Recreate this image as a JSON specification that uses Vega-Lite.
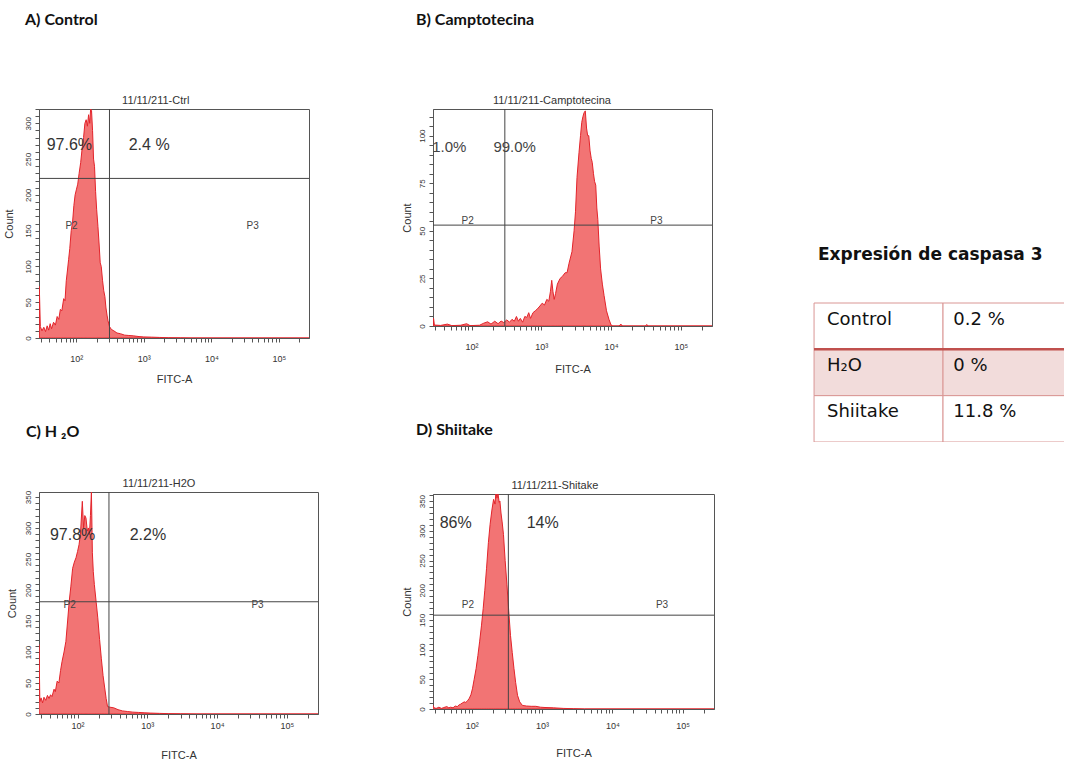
{
"$schema": "https://vega.github.io/schema/vega-lite/v6.json",
"background": "white",
"padding": {"left": 2, "top": 11, "right": 0, "bottom": 0},
"config": {
  "view": {"stroke": "#555", "strokeWidth": 1},
  "axis": {"labelFont": "Liberation Sans", "labelColor": "#333", "tickColor": "#555", "domainColor": "#555", "grid": false, "titleFont": "Liberation Sans", "titleFontWeight": "normal", "titleColor": "#333", "tickSize": 4, "labelOverlap": false, "labelFlush": false, "titleFontSize": 11, "tickCount": 100},
  "axisX": {"labelFontSize": 9},
  "axisY": {"labelAngle": 270, "labelFontSize": 8, "labelOverlap": false, "labelBound": false}
},
"datasets": {
  "histA": [{"fitc":28.3,"count":72},{"fitc":29.3,"count":16},{"fitc":31,"count":10},{"fitc":33,"count":15},{"fitc":35,"count":9},{"fitc":37,"count":17},{"fitc":39,"count":11},{"fitc":41,"count":20},{"fitc":43,"count":13},{"fitc":46,"count":22},{"fitc":49,"count":18},{"fitc":52,"count":30},{"fitc":55,"count":26},{"fitc":58,"count":40},{"fitc":61,"count":38},{"fitc":65,"count":55},{"fitc":68,"count":52},{"fitc":71,"count":80},{"fitc":74,"count":95},{"fitc":77,"count":110},{"fitc":80,"count":125},{"fitc":84,"count":150},{"fitc":88,"count":162},{"fitc":92,"count":185},{"fitc":96,"count":200},{"fitc":100,"count":207},{"fitc":105,"count":215},{"fitc":110,"count":230},{"fitc":116,"count":245},{"fitc":122,"count":265},{"fitc":128,"count":280},{"fitc":134,"count":300},{"fitc":140,"count":305},{"fitc":146,"count":296},{"fitc":152,"count":312},{"fitc":158,"count":300},{"fitc":163,"count":320},{"fitc":168,"count":318},{"fitc":174,"count":290},{"fitc":180,"count":250},{"fitc":186,"count":240},{"fitc":193,"count":205},{"fitc":200,"count":180},{"fitc":209,"count":156},{"fitc":218,"count":130},{"fitc":226,"count":105},{"fitc":234,"count":100},{"fitc":245,"count":80},{"fitc":255,"count":66},{"fitc":265,"count":58},{"fitc":275,"count":42},{"fitc":285,"count":32},{"fitc":295,"count":24},{"fitc":310,"count":16},{"fitc":331,"count":12},{"fitc":360,"count":10},{"fitc":400,"count":7},{"fitc":450,"count":6},{"fitc":520,"count":4},{"fitc":600,"count":3.5},{"fitc":700,"count":3},{"fitc":850,"count":2},{"fitc":1000,"count":1.5},{"fitc":1300,"count":1.2},{"fitc":1700,"count":0.8},{"fitc":2300,"count":0.4},{"fitc":3500,"count":0.2},{"fitc":5000,"count":0},{"fitc":280000,"count":0}],
  "histB": [{"fitc":28.5,"count":4},{"fitc":29.3,"count":0.5},{"fitc":36,"count":0.3},{"fitc":45,"count":1},{"fitc":52,"count":0.2},{"fitc":70,"count":0.4},{"fitc":85,"count":1.2},{"fitc":95,"count":0.2},{"fitc":130,"count":0.4},{"fitc":150,"count":1.5},{"fitc":170,"count":2.2},{"fitc":190,"count":1},{"fitc":215,"count":2.5},{"fitc":240,"count":1.2},{"fitc":265,"count":2.6},{"fitc":290,"count":1.8},{"fitc":320,"count":3.2},{"fitc":350,"count":2},{"fitc":380,"count":3.5},{"fitc":410,"count":2.5},{"fitc":440,"count":5},{"fitc":470,"count":2.5},{"fitc":500,"count":4},{"fitc":540,"count":2},{"fitc":580,"count":5},{"fitc":620,"count":4.5},{"fitc":660,"count":7},{"fitc":700,"count":4},{"fitc":760,"count":7},{"fitc":820,"count":8},{"fitc":880,"count":9},{"fitc":955,"count":10.5},{"fitc":1030,"count":12},{"fitc":1110,"count":11},{"fitc":1200,"count":14},{"fitc":1280,"count":13},{"fitc":1350,"count":18},{"fitc":1410,"count":24},{"fitc":1470,"count":18},{"fitc":1530,"count":14},{"fitc":1600,"count":17},{"fitc":1700,"count":22},{"fitc":1860,"count":25},{"fitc":2000,"count":26},{"fitc":2200,"count":28},{"fitc":2340,"count":28},{"fitc":2500,"count":33},{"fitc":2750,"count":39},{"fitc":2950,"count":50},{"fitc":3090,"count":60},{"fitc":3250,"count":78},{"fitc":3470,"count":91},{"fitc":3650,"count":100},{"fitc":3800,"count":107},{"fitc":3950,"count":110},{"fitc":4100,"count":112},{"fitc":4270,"count":113},{"fitc":4450,"count":104},{"fitc":4620,"count":100},{"fitc":4790,"count":100},{"fitc":5000,"count":92},{"fitc":5200,"count":88},{"fitc":5370,"count":86},{"fitc":5600,"count":80},{"fitc":5800,"count":76},{"fitc":6030,"count":74},{"fitc":6250,"count":62},{"fitc":6460,"count":56},{"fitc":6750,"count":42},{"fitc":7080,"count":30},{"fitc":7500,"count":22},{"fitc":7940,"count":16},{"fitc":8600,"count":8},{"fitc":9330,"count":3.5},{"fitc":10000,"count":0.5},{"fitc":10600,"count":0},{"fitc":13000,"count":0},{"fitc":13800,"count":1},{"fitc":14600,"count":0},{"fitc":31000,"count":0},{"fitc":32500,"count":0.8},{"fitc":34000,"count":0},{"fitc":280000,"count":0}],
  "histC": [{"fitc":28,"count":112},{"fitc":28.8,"count":20},{"fitc":30,"count":26},{"fitc":31.5,"count":18},{"fitc":33,"count":27},{"fitc":35,"count":22},{"fitc":37,"count":30},{"fitc":39,"count":25},{"fitc":41,"count":31},{"fitc":43,"count":28},{"fitc":46,"count":40},{"fitc":48,"count":36},{"fitc":51,"count":53},{"fitc":54,"count":50},{"fitc":57,"count":70},{"fitc":60,"count":85},{"fitc":64,"count":100},{"fitc":68,"count":117},{"fitc":72,"count":150},{"fitc":76,"count":182},{"fitc":80,"count":205},{"fitc":85,"count":235},{"fitc":90,"count":245},{"fitc":95,"count":252},{"fitc":100,"count":262},{"fitc":105,"count":273},{"fitc":110,"count":290},{"fitc":117,"count":343},{"fitc":122,"count":300},{"fitc":127,"count":320},{"fitc":132,"count":316},{"fitc":138,"count":295},{"fitc":143,"count":300},{"fitc":148,"count":289},{"fitc":153,"count":320},{"fitc":158,"count":359},{"fitc":163,"count":260},{"fitc":168,"count":230},{"fitc":174,"count":209},{"fitc":185,"count":180},{"fitc":195,"count":155},{"fitc":207,"count":120},{"fitc":219,"count":90},{"fitc":232,"count":62},{"fitc":245,"count":42},{"fitc":257,"count":25},{"fitc":269,"count":12},{"fitc":290,"count":11},{"fitc":330,"count":10},{"fitc":380,"count":7},{"fitc":440,"count":5},{"fitc":520,"count":4},{"fitc":620,"count":3},{"fitc":750,"count":2.5},{"fitc":900,"count":2},{"fitc":1100,"count":1.5},{"fitc":1500,"count":1},{"fitc":2000,"count":0.6},{"fitc":3000,"count":0.3},{"fitc":5000,"count":0},{"fitc":280000,"count":0}],
  "histD": [{"fitc":28,"count":6},{"fitc":29,"count":2},{"fitc":31,"count":1},{"fitc":34,"count":3},{"fitc":37,"count":1},{"fitc":40,"count":2.5},{"fitc":44,"count":4},{"fitc":47,"count":2},{"fitc":50,"count":3},{"fitc":54,"count":2},{"fitc":58,"count":5},{"fitc":62,"count":4},{"fitc":66,"count":7},{"fitc":69,"count":8},{"fitc":73,"count":10},{"fitc":78,"count":12},{"fitc":82,"count":11},{"fitc":87,"count":14},{"fitc":92,"count":18},{"fitc":97,"count":24},{"fitc":102,"count":34},{"fitc":108,"count":50},{"fitc":115,"count":68},{"fitc":122,"count":90},{"fitc":129,"count":113},{"fitc":137,"count":140},{"fitc":145,"count":169},{"fitc":153,"count":200},{"fitc":162,"count":237},{"fitc":172,"count":280},{"fitc":182,"count":311},{"fitc":193,"count":335},{"fitc":204,"count":353},{"fitc":214,"count":345},{"fitc":220,"count":365},{"fitc":228,"count":355},{"fitc":236,"count":362},{"fitc":245,"count":348},{"fitc":251,"count":350},{"fitc":260,"count":330},{"fitc":270,"count":315},{"fitc":282,"count":294},{"fitc":298,"count":250},{"fitc":316,"count":209},{"fitc":335,"count":165},{"fitc":355,"count":124},{"fitc":376,"count":95},{"fitc":398,"count":68},{"fitc":420,"count":45},{"fitc":447,"count":23},{"fitc":480,"count":12},{"fitc":525,"count":6},{"fitc":600,"count":5},{"fitc":700,"count":4.5},{"fitc":813,"count":4.5},{"fitc":950,"count":3},{"fitc":1100,"count":2.5},{"fitc":1445,"count":2},{"fitc":2000,"count":1},{"fitc":2820,"count":0.5},{"fitc":4000,"count":0},{"fitc":280000,"count":0}],
  "gates": [{"panel":"A","fitc":310,"count":223},{"panel":"B","fitc":300,"count":53},{"panel":"C","fitc":282,"count":181},{"panel":"D","fitc":331,"count":158}],
  "labels": [
    {"panel":"A","kind":"title","label":"11/11/211-Ctrl","fitc":1500,"count":320},
    {"panel":"A","kind":"pct","label":"97.6%","fitc":79,"count":270},
    {"panel":"A","kind":"pct","label":"2.4 %","fitc":1200,"count":270},
    {"panel":"A","kind":"pop","label":"P2","fitc":85,"count":156},
    {"panel":"A","kind":"pop","label":"P3","fitc":41000,"count":156},
    {"panel":"B","kind":"title","label":"11/11/211-Camptotecina","fitc":1420,"count":114},
    {"panel":"B","kind":"pct","label":"1.0%","fitc":48,"count":94},
    {"panel":"B","kind":"pct","label":"99.0%","fitc":415,"count":94},
    {"panel":"B","kind":"pop","label":"P2","fitc":88,"count":55},
    {"panel":"B","kind":"pop","label":"P3","fitc":44600,"count":55},
    {"panel":"C","kind":"title","label":"11/11/211-H2O","fitc":1470,"count":358},
    {"panel":"C","kind":"pct","label":"97.8%","fitc":85,"count":289},
    {"panel":"C","kind":"pct","label":"2.2%","fitc":1020,"count":289},
    {"panel":"C","kind":"pop","label":"P2","fitc":77,"count":176},
    {"panel":"C","kind":"pop","label":"P3","fitc":38000,"count":176},
    {"panel":"D","kind":"title","label":"11/11/211-Shitake","fitc":1520,"count":362},
    {"panel":"D","kind":"pct","label":"86%","fitc":59,"count":313},
    {"panel":"D","kind":"pct","label":"14%","fitc":1020,"count":313},
    {"panel":"D","kind":"pop","label":"P2","fitc":88,"count":175},
    {"panel":"D","kind":"pop","label":"P3","fitc":51000,"count":175}
  ],
  "tabla": [{"grupo":"Control","valor":"0.2 %"},{"grupo":"H₂O","valor":"0 %"},{"grupo":"Shiitake","valor":"11.8 %"}]
},
"spacing": 81,
"hconcat": [
 {"spacing": 38, "columns": 1, "align": "none", "concat": [
  {"title": {"text": "A) Control", "anchor": "start", "frame": "bounds", "offset": 67, "dx": 22, "font": "Lato", "fontSize": 16, "fontWeight": "bold", "color": "#111"},
   "width": 270, "height": 229,
   "layer": [
    {"data": {"name": "histA"}, "mark": {"type": "area", "clip": true, "fill": "#f27474", "stroke": "#e3242b", "strokeWidth": 1},
     "encoding": {
      "x": {"field": "fitc", "type": "quantitative", "scale": {"type": "log", "domain": [28, 280000]},
            "axis": {"title": "FITC-A", "tickCount": 100, "values": [30,40,50,60,70,80,90,100,200,300,400,500,600,700,800,900,1000,2000,3000,4000,5000,6000,7000,8000,9000,10000,20000,30000,40000,50000,60000,70000,80000,90000,100000,200000], "labelExpr": "datum.value === 100 ? '10²' : datum.value === 1000 ? '10³' : datum.value === 10000 ? '10⁴' : datum.value === 100000 ? '10⁵' : ''", "labelPadding": 12, "titlePadding": 10}},
      "y": {"field": "count", "type": "quantitative", "scale": {"domain": [0, 320]},
            "axis": {"title": "Count", "tickCount": 100, "values": [0,10,20,30,40,50,60,70,80,90,100,110,120,130,140,150,160,170,180,190,200,210,220,230,240,250,260,270,280,290,300,310,320], "labelExpr": "datum.value % 50 === 0 ? datum.label : ''", "labelOverlap": false, "labelPadding": 3, "titlePadding": 10}}}},
    {"data": {"name": "gates"}, "transform": [{"filter": "datum.panel === 'A'"}], "mark": {"type": "rule", "color": "#444"},
     "encoding": {"y": {"field": "count", "type": "quantitative", "scale": {"domain": [0, 320]}}}},
    {"data": {"name": "gates"}, "transform": [{"filter": "datum.panel === 'A'"}], "mark": {"type": "rule", "color": "#444"},
     "encoding": {"x": {"field": "fitc", "type": "quantitative", "scale": {"type": "log", "domain": [28, 280000]}}}},
    {"data": {"name": "labels"}, "transform": [{"filter": "datum.panel === 'A' && datum.kind === 'pct'"}], "mark": {"type": "text", "font": "Liberation Sans", "fontSize": 16, "color": "#333"},
     "encoding": {"x": {"field": "fitc", "type": "quantitative", "scale": {"type": "log", "domain": [28, 280000]}}, "y": {"field": "count", "type": "quantitative", "scale": {"domain": [0, 320]}}, "text": {"field": "label"}}},
    {"data": {"name": "labels"}, "transform": [{"filter": "datum.panel === 'A' && datum.kind === 'pop'"}], "mark": {"type": "text", "font": "Liberation Sans", "fontSize": 10, "color": "#444"},
     "encoding": {"x": {"field": "fitc", "type": "quantitative", "scale": {"type": "log", "domain": [28, 280000]}}, "y": {"field": "count", "type": "quantitative", "scale": {"domain": [0, 320]}}, "text": {"field": "label"}}},
    {"data": {"name": "labels"}, "transform": [{"filter": "datum.panel === 'A' && datum.kind === 'title'"}], "mark": {"type": "text", "font": "Liberation Sans", "fontSize": 11, "color": "#333", "baseline": "bottom", "dy": -3},
     "encoding": {"x": {"field": "fitc", "type": "quantitative", "scale": {"type": "log", "domain": [28, 280000]}}, "y": {"field": "count", "type": "quantitative", "scale": {"domain": [0, 320]}}, "text": {"field": "label"}}}
   ]},
  {"title": {"text": "C) H ₂O", "anchor": "start", "frame": "bounds", "offset": 38, "dx": 20, "font": "Lato", "fontSize": 16, "fontWeight": "bold", "color": "#111"},
   "width": 279, "height": 222,
   "layer": [
    {"data": {"name": "histC"}, "mark": {"type": "area", "clip": true, "fill": "#f27474", "stroke": "#e3242b", "strokeWidth": 1},
     "encoding": {
      "x": {"field": "fitc", "type": "quantitative", "scale": {"type": "log", "domain": [28, 280000]},
            "axis": {"title": "FITC-A", "tickCount": 100, "values": [30,40,50,60,70,80,90,100,200,300,400,500,600,700,800,900,1000,2000,3000,4000,5000,6000,7000,8000,9000,10000,20000,30000,40000,50000,60000,70000,80000,90000,100000,200000], "labelExpr": "datum.value === 100 ? '10²' : datum.value === 1000 ? '10³' : datum.value === 10000 ? '10⁴' : datum.value === 100000 ? '10⁵' : ''", "labelPadding": 3, "titlePadding": 19}},
      "y": {"field": "count", "type": "quantitative", "scale": {"domain": [0, 358]},
            "axis": {"title": "Count", "tickCount": 100, "values": [0,10,20,30,40,50,60,70,80,90,100,110,120,130,140,150,160,170,180,190,200,210,220,230,240,250,260,270,280,290,300,310,320,330,340,350], "labelExpr": "datum.value % 50 === 0 ? datum.label : ''", "labelOverlap": false, "labelPadding": 3, "titlePadding": 7}}}},
    {"data": {"name": "gates"}, "transform": [{"filter": "datum.panel === 'C'"}], "mark": {"type": "rule", "color": "#444"},
     "encoding": {"y": {"field": "count", "type": "quantitative", "scale": {"domain": [0, 358]}}}},
    {"data": {"name": "gates"}, "transform": [{"filter": "datum.panel === 'C'"}], "mark": {"type": "rule", "color": "#444"},
     "encoding": {"x": {"field": "fitc", "type": "quantitative", "scale": {"type": "log", "domain": [28, 280000]}}}},
    {"data": {"name": "labels"}, "transform": [{"filter": "datum.panel === 'C' && datum.kind === 'pct'"}], "mark": {"type": "text", "font": "Liberation Sans", "fontSize": 16, "color": "#333"},
     "encoding": {"x": {"field": "fitc", "type": "quantitative", "scale": {"type": "log", "domain": [28, 280000]}}, "y": {"field": "count", "type": "quantitative", "scale": {"domain": [0, 358]}}, "text": {"field": "label"}}},
    {"data": {"name": "labels"}, "transform": [{"filter": "datum.panel === 'C' && datum.kind === 'pop'"}], "mark": {"type": "text", "font": "Liberation Sans", "fontSize": 10, "color": "#444"},
     "encoding": {"x": {"field": "fitc", "type": "quantitative", "scale": {"type": "log", "domain": [28, 280000]}}, "y": {"field": "count", "type": "quantitative", "scale": {"domain": [0, 358]}}, "text": {"field": "label"}}},
    {"data": {"name": "labels"}, "transform": [{"filter": "datum.panel === 'C' && datum.kind === 'title'"}], "mark": {"type": "text", "font": "Liberation Sans", "fontSize": 11, "color": "#333", "baseline": "bottom", "dy": -3},
     "encoding": {"x": {"field": "fitc", "type": "quantitative", "scale": {"type": "log", "domain": [28, 280000]}}, "y": {"field": "count", "type": "quantitative", "scale": {"domain": [0, 358]}}, "text": {"field": "label"}}}
   ]}
 ]},
 {"spacing": 46, "vconcat": [
  {"title": {"text": "B) Camptotecina", "anchor": "start", "frame": "bounds", "offset": 67, "dx": 15, "font": "Lato", "fontSize": 16, "fontWeight": "bold", "color": "#111"},
   "width": 279, "height": 217,
   "layer": [
    {"data": {"name": "histB"}, "mark": {"type": "area", "clip": true, "fill": "#f27474", "stroke": "#e3242b", "strokeWidth": 1},
     "encoding": {
      "x": {"field": "fitc", "type": "quantitative", "scale": {"type": "log", "domain": [28, 280000]},
            "axis": {"title": "FITC-A", "tickCount": 100, "values": [30,40,50,60,70,80,90,100,200,300,400,500,600,700,800,900,1000,2000,3000,4000,5000,6000,7000,8000,9000,10000,20000,30000,40000,50000,60000,70000,80000,90000,100000,200000], "labelExpr": "datum.value === 100 ? '10²' : datum.value === 1000 ? '10³' : datum.value === 10000 ? '10⁴' : datum.value === 100000 ? '10⁵' : ''", "labelPadding": 12, "titlePadding": 12}},
      "y": {"field": "count", "type": "quantitative", "scale": {"domain": [0, 114]},
            "axis": {"title": "Count", "tickCount": 100, "values": [0,5,10,15,20,25,30,35,40,45,50,55,60,65,70,75,80,85,90,95,100,105,110], "labelExpr": "datum.value % 25 === 0 ? datum.label : ''", "labelOverlap": false, "labelPadding": 3, "titlePadding": 6}}}},
    {"data": {"name": "gates"}, "transform": [{"filter": "datum.panel === 'B'"}], "mark": {"type": "rule", "color": "#444"},
     "encoding": {"y": {"field": "count", "type": "quantitative", "scale": {"domain": [0, 114]}}}},
    {"data": {"name": "gates"}, "transform": [{"filter": "datum.panel === 'B'"}], "mark": {"type": "rule", "color": "#444"},
     "encoding": {"x": {"field": "fitc", "type": "quantitative", "scale": {"type": "log", "domain": [28, 280000]}}}},
    {"data": {"name": "labels"}, "transform": [{"filter": "datum.panel === 'B' && datum.kind === 'pct'"}], "mark": {"type": "text", "font": "Liberation Sans", "fontSize": 15, "color": "#444"},
     "encoding": {"x": {"field": "fitc", "type": "quantitative", "scale": {"type": "log", "domain": [28, 280000]}}, "y": {"field": "count", "type": "quantitative", "scale": {"domain": [0, 114]}}, "text": {"field": "label"}}},
    {"data": {"name": "labels"}, "transform": [{"filter": "datum.panel === 'B' && datum.kind === 'pop'"}], "mark": {"type": "text", "font": "Liberation Sans", "fontSize": 10, "color": "#444"},
     "encoding": {"x": {"field": "fitc", "type": "quantitative", "scale": {"type": "log", "domain": [28, 280000]}}, "y": {"field": "count", "type": "quantitative", "scale": {"domain": [0, 114]}}, "text": {"field": "label"}}},
    {"data": {"name": "labels"}, "transform": [{"filter": "datum.panel === 'B' && datum.kind === 'title'"}], "mark": {"type": "text", "font": "Liberation Sans", "fontSize": 11, "color": "#333", "baseline": "bottom", "dy": -3},
     "encoding": {"x": {"field": "fitc", "type": "quantitative", "scale": {"type": "log", "domain": [28, 280000]}}, "y": {"field": "count", "type": "quantitative", "scale": {"domain": [0, 114]}}, "text": {"field": "label"}}}
   ]},
  {"title": {"text": "D) Shiitake", "anchor": "start", "frame": "bounds", "offset": 42, "dx": 15, "font": "Lato", "fontSize": 16, "fontWeight": "bold", "color": "#111"},
   "width": 281, "height": 215,
   "layer": [
    {"data": {"name": "histD"}, "mark": {"type": "area", "clip": true, "fill": "#f27474", "stroke": "#e3242b", "strokeWidth": 1},
     "encoding": {
      "x": {"field": "fitc", "type": "quantitative", "scale": {"type": "log", "domain": [28, 280000]},
            "axis": {"title": "FITC-A", "tickCount": 100, "values": [30,40,50,60,70,80,90,100,200,300,400,500,600,700,800,900,1000,2000,3000,4000,5000,6000,7000,8000,9000,10000,20000,30000,40000,50000,60000,70000,80000,90000,100000,200000], "labelExpr": "datum.value === 100 ? '10²' : datum.value === 1000 ? '10³' : datum.value === 10000 ? '10⁴' : datum.value === 100000 ? '10⁵' : ''", "labelPadding": 8, "titlePadding": 17}},
      "y": {"field": "count", "type": "quantitative", "scale": {"domain": [0, 362]},
            "axis": {"title": "Count", "tickCount": 100, "values": [0,10,20,30,40,50,60,70,80,90,100,110,120,130,140,150,160,170,180,190,200,210,220,230,240,250,260,270,280,290,300,310,320,330,340,350,360], "labelExpr": "datum.value % 50 === 0 ? datum.label : ''", "labelOverlap": false, "labelPadding": 3, "titlePadding": 6}}}},
    {"data": {"name": "gates"}, "transform": [{"filter": "datum.panel === 'D'"}], "mark": {"type": "rule", "color": "#444"},
     "encoding": {"y": {"field": "count", "type": "quantitative", "scale": {"domain": [0, 362]}}}},
    {"data": {"name": "gates"}, "transform": [{"filter": "datum.panel === 'D'"}], "mark": {"type": "rule", "color": "#444"},
     "encoding": {"x": {"field": "fitc", "type": "quantitative", "scale": {"type": "log", "domain": [28, 280000]}}}},
    {"data": {"name": "labels"}, "transform": [{"filter": "datum.panel === 'D' && datum.kind === 'pct'"}], "mark": {"type": "text", "font": "Liberation Sans", "fontSize": 16, "color": "#333"},
     "encoding": {"x": {"field": "fitc", "type": "quantitative", "scale": {"type": "log", "domain": [28, 280000]}}, "y": {"field": "count", "type": "quantitative", "scale": {"domain": [0, 362]}}, "text": {"field": "label"}}},
    {"data": {"name": "labels"}, "transform": [{"filter": "datum.panel === 'D' && datum.kind === 'pop'"}], "mark": {"type": "text", "font": "Liberation Sans", "fontSize": 10, "color": "#444"},
     "encoding": {"x": {"field": "fitc", "type": "quantitative", "scale": {"type": "log", "domain": [28, 280000]}}, "y": {"field": "count", "type": "quantitative", "scale": {"domain": [0, 362]}}, "text": {"field": "label"}}},
    {"data": {"name": "labels"}, "transform": [{"filter": "datum.panel === 'D' && datum.kind === 'title'"}], "mark": {"type": "text", "font": "Liberation Sans", "fontSize": 11, "color": "#333", "baseline": "bottom", "dy": -3},
     "encoding": {"x": {"field": "fitc", "type": "quantitative", "scale": {"type": "log", "domain": [28, 280000]}}, "y": {"field": "count", "type": "quantitative", "scale": {"domain": [0, 362]}}, "text": {"field": "label"}}}
   ]}
 ]},
 {"data": {"name": "tabla"},
  "width": 268, "height": 333,
  "view": {"stroke": null},
  "title": {"text": "Expresión de caspasa 3", "anchor": "start", "frame": "group", "offset": -155, "dx": 22, "font": "DejaVu Sans", "fontSize": 17, "fontWeight": "bold", "color": "#111"},
  "layer": [
   {"mark": {"type": "rect", "stroke": "#d99694", "strokeWidth": 1, "clip": true},
    "encoding": {
     "y": {"field": "grupo", "type": "nominal", "sort": null, "scale": {"domain": ["Control", "H₂O", "Shiitake"], "range": [194, 333], "paddingInner": 0, "paddingOuter": 0}, "axis": null},
     "x": {"datum": 0, "type": "quantitative", "scale": {"domain": [-0.14, 1.938]}, "axis": null},
     "x2": {"datum": 1},
     "fill": {"condition": {"test": "datum.grupo === 'H₂O'", "value": "#f2dcdb"}, "value": "#ffffff"}}},
   {"mark": {"type": "rect", "stroke": "#d99694", "strokeWidth": 1, "clip": true},
    "encoding": {
     "y": {"field": "grupo", "type": "nominal", "sort": null, "scale": {"domain": ["Control", "H₂O", "Shiitake"], "range": [194, 333], "paddingInner": 0, "paddingOuter": 0}, "axis": null},
     "x": {"datum": 1, "type": "quantitative", "scale": {"domain": [-0.14, 1.938]}, "axis": null},
     "x2": {"datum": 2},
     "fill": {"condition": {"test": "datum.grupo === 'H₂O'", "value": "#f2dcdb"}, "value": "#ffffff"}}},
   {"transform": [{"filter": "datum.grupo === 'H₂O'"}],
    "mark": {"type": "rule", "color": "#c0504d", "strokeWidth": 2.5, "clip": true},
    "encoding": {
     "y": {"field": "grupo", "type": "nominal", "bandPosition": 0, "sort": null, "scale": {"domain": ["Control", "H₂O", "Shiitake"], "range": [194, 333], "paddingInner": 0, "paddingOuter": 0}, "axis": null},
     "x": {"datum": 0, "type": "quantitative", "scale": {"domain": [-0.14, 1.938]}, "axis": null},
     "x2": {"datum": 2}}},
   {"mark": {"type": "text", "align": "left", "baseline": "middle", "font": "DejaVu Sans", "fontSize": 18, "color": "#111"},
    "encoding": {
     "y": {"field": "grupo", "type": "nominal", "bandPosition": 0.36, "sort": null, "scale": {"domain": ["Control", "H₂O", "Shiitake"], "range": [194, 333], "paddingInner": 0, "paddingOuter": 0}, "axis": null},
     "x": {"datum": 0.1, "type": "quantitative", "scale": {"domain": [-0.14, 1.938]}, "axis": null},
     "text": {"field": "grupo"}}},
   {"mark": {"type": "text", "align": "left", "baseline": "middle", "font": "DejaVu Sans", "fontSize": 18, "color": "#111"},
    "encoding": {
     "y": {"field": "grupo", "type": "nominal", "bandPosition": 0.36, "sort": null, "scale": {"domain": ["Control", "H₂O", "Shiitake"], "range": [194, 333], "paddingInner": 0, "paddingOuter": 0}, "axis": null},
     "x": {"datum": 1.08, "type": "quantitative", "scale": {"domain": [-0.14, 1.938]}, "axis": null},
     "text": {"field": "valor"}}}
  ]}
]
}
